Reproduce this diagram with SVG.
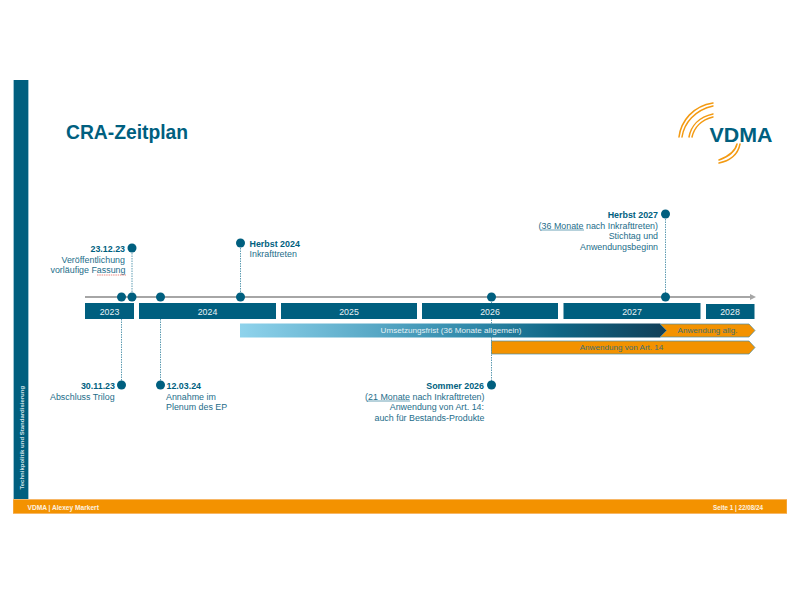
<svg xmlns="http://www.w3.org/2000/svg" width="800" height="599" viewBox="0 0 800 599">
<style>
text{font-family:"Liberation Sans",Arial,sans-serif}
.l{font-size:8.900px;fill:#1d6d8a}
.b{font-size:8.900px;font-weight:700;fill:#005f7f}
.e{text-anchor:end}
.y{font-size:8.800px;fill:#e8f1f4;text-anchor:middle}
.yb{fill:#005f7f}
.d{fill:#005f7f}
.c{stroke:#5e9cb2;stroke-width:1;stroke-dasharray:1.5 1;fill:none}
.a{fill:none;stroke:#f39a12;stroke-linecap:round}
.u{fill:none;stroke:#4a8ea6;stroke-width:.8}
.w{fill:none;stroke:#e2574c;stroke-width:.7;stroke-dasharray:1.5 .8}
</style>
<defs>
<linearGradient id="g" x1="0" x2="1" y1="0" y2="0">
<stop offset="0" stop-color="#8fd3ec"/><stop offset=".55" stop-color="#2f88a9"/><stop offset=".75" stop-color="#0f6584"/><stop offset="1" stop-color="#123f58"/>
</linearGradient>
</defs>
<rect width="800" height="599" fill="#fff"/>

<g id="frame">
<rect x="13" y="80" width="16" height="420" fill="#9cc5d4"/>
<rect x="14" y="80" width="14" height="420" fill="#005f7f"/>
<rect x="13" y="499" width="774" height="15" fill="#f7b766"/>
<rect x="13.500" y="500" width="773" height="13" fill="#f39200"/>
<text transform="translate(23.500 489.500) rotate(-90)" font-size="6" font-weight="700" fill="#d3e3e9">Technikpolitik und Standardisierung</text>
<text x="27.500" y="509.500" font-size="6.600" font-weight="700" fill="#fdf3e3">VDMA | Alexey Markert</text>
<text x="713" y="509.500" font-size="6.300" font-weight="700" fill="#fdf3e3">Seite 1 | 22/08/24</text>
</g>

<text id="title" x="66" y="139" font-size="19.300" font-weight="700" fill="#005f7f">CRA-Zeitplan</text>

<g id="logo">
<path class="a" stroke-width="1.500" d="M679 137C681 121 693 106 713 103"/>
<path class="a" stroke-width="1.500" d="M682 137C684 123 695 110 713 106"/>
<path class="a" stroke-width="1.500" d="M689 137C691 126 699 117 713 114"/>
<path class="a" stroke-width="1.500" d="M692 137C694 128 701 120 713 117"/>
<path class="a" stroke-width="1.500" d="M719 160C727 157 735 153 737 144"/>
<path class="a" stroke-width="1.500" d="M719 163C729 161 738 155 740 144"/>
<text x="709.500" y="141.500" font-size="21" font-weight="700" fill="#005f7f" textLength="63" lengthAdjust="spacingAndGlyphs">VDMA</text>
</g>

<g id="connectors">
<path d="M85 297H750" stroke="#a6a6a6" stroke-width="2" fill="none"/>
<path d="M750 294L756 297L750 300Z" fill="#a6a6a6"/>
<path class="c" d="M132 248V297"/>
<path class="c" d="M240.500 243V297"/>
<path class="c" d="M665.500 214V297"/>
<path class="c" d="M121.500 319V385"/>
<path class="c" d="M160.500 319V385"/>
<path class="c" d="M491.500 297V385"/>
</g>

<g id="axis-dots">
<circle class="d" cx="121.500" cy="297" r="4.500"/>
<circle class="d" cx="132" cy="297" r="4.500"/>
<circle class="d" cx="160.500" cy="297" r="4.500"/>
<circle class="d" cx="240.500" cy="297" r="4.500"/>
<circle class="d" cx="491.500" cy="297" r="4.500"/>
<circle class="d" cx="665.500" cy="297" r="4.500"/>
</g>

<g id="year-2023"><rect class="yb" x="85" y="303" width="49" height="16"/><text class="y" x="109.500" y="315">2023</text></g>
<g id="year-2024"><rect class="yb" x="139" y="303" width="137" height="16"/><text class="y" x="207.500" y="315">2024</text></g>
<g id="year-2025"><rect class="yb" x="281" y="303" width="136" height="16"/><text class="y" x="349" y="315">2025</text></g>
<g id="year-2026"><rect class="yb" x="422" y="303" width="136" height="16"/><text class="y" x="490" y="315">2026</text></g>
<g id="year-2027"><rect class="yb" x="563.500" y="303" width="137" height="16"/><text class="y" x="632" y="315">2027</text></g>
<g id="year-2028"><rect class="yb" x="706" y="304" width="48.500" height="15"/><text class="y" x="730" y="315">2028</text></g>

<g id="bar-umsetzung">
<path d="M240 323.500H660L667 330.500L660 337.500H240Z" fill="url(#g)"/>
<text x="451" y="333.300" font-size="8.100" fill="#e4f0f4" text-anchor="middle">Umsetzungsfrist (36 Monate allgemein)</text>
</g>
<g id="bar-anwendung-allg">
<path d="M660 324H749L755 330.500L749 337H660L666.500 330.500Z" fill="#f39200" stroke="#4a8ea6" stroke-width=".7"/>
<text x="707.500" y="333.300" font-size="8.100" fill="#3f6f72" text-anchor="middle">Anwendung allg.</text>
</g>
<g id="bar-art14">
<path d="M491.500 341H749L755 347.500L749 354H491.500Z" fill="#f39200" stroke="#4a8ea6" stroke-width=".7"/>
<text x="621.500" y="350.300" font-size="8.100" fill="#3f6f72" text-anchor="middle">Anwendung von Art. 14</text>
</g>

<g id="node-231223">
<circle class="d" cx="132" cy="248" r="4.500"/>
<text class="b e" x="125" y="251.500">23.12.23</text>
<text class="l e" x="125" y="262.500">Veröffentlichung</text>
<text class="l e" x="125.500" y="273">vorläufige Fassung</text>
<path class="w" d="M97 275H126"/>
</g>
<g id="node-herbst2024">
<circle class="d" cx="240.500" cy="243" r="4.500"/>
<text class="b" x="249.500" y="246.500">Herbst 2024</text>
<text class="l" x="249.500" y="257">Inkrafttreten</text>
</g>
<g id="node-herbst2027">
<circle class="d" cx="665.500" cy="214" r="4.500"/>
<text class="b e" x="658" y="217.500">Herbst 2027</text>
<text class="l e" x="658" y="228.500">(36 Monate nach Inkrafttreten)</text>
<path class="u" d="M541 230H584"/>
<text class="l e" x="658" y="239">Stichtag und</text>
<text class="l e" x="658" y="249.500">Anwendungsbeginn</text>
</g>
<g id="node-301123">
<circle class="d" cx="121.500" cy="385" r="4.500"/>
<text class="b e" x="115" y="388.500">30.11.23</text>
<text class="l" x="50" y="399.500">Abschluss Trilog</text>
</g>
<g id="node-120324">
<circle class="d" cx="160.500" cy="385" r="4.500"/>
<text class="b" x="166.500" y="388.500">12.03.24</text>
<text class="l" x="166" y="399.500">Annahme im</text>
<text class="l" x="166" y="410">Plenum des EP</text>
</g>
<g id="node-sommer2026">
<circle class="d" cx="491.500" cy="385" r="4.500"/>
<text class="b e" x="484" y="388.500">Sommer 2026</text>
<text class="l e" x="484.500" y="399.500">(21 Monate nach Inkrafttreten)</text>
<path class="u" d="M367 401H410"/>
<text class="l e" x="484" y="410">Anwendung von Art. 14:</text>
<text class="l e" x="484.500" y="420.500">auch für Bestands-Produkte</text>
</g>
</svg>
